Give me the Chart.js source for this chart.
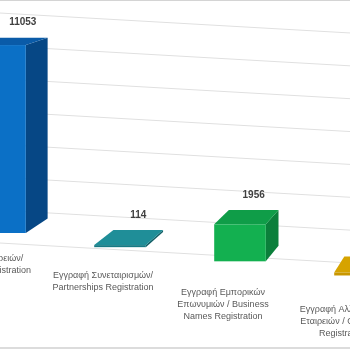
<!DOCTYPE html>
<html>
<head>
<meta charset="utf-8">
<script src="https://cdn.jsdelivr.net/npm/chart.js@4/dist/chart.umd.min.js"></script>
<style>
html, body { margin: 0; padding: 0; background: #fff; }
body { width: 350px; height: 350px; overflow: hidden; position: relative; }
#wrap { position: absolute; left: -60px; top: 0; width: 480px; height: 350px; }
#topLine { position: absolute; left: 0; top: 0; width: 350px; height: 1px; background: #d4d4d4; }
#bottomLine { position: absolute; left: 0; top: 347px; width: 350px; height: 2px; background: #dcdcdc; }
</style>
</head>
<body>
<div id="wrap"><canvas id="chart"></canvas></div>
<div id="topLine"></div>
<div id="bottomLine"></div>
<script>
// data
const categories = [
  ["Εγγραφή Εταιρειών/", "Companies Registration"],
  ["Εγγραφή Συνεταιρισμών/", "Partnerships Registration"],
  ["Εγγραφή Εμπορικών", "Επωνυμιών / Business", "Names Registration"],
  ["Εγγραφή Αλλοδαπών", "Εταιρειών / Overseas", "Registration"]
];
const registrations = [11053, 114, 1956, 150];
const yTicks = [0, 2000, 4000, 6000, 8000, 10000, 12000, 14000];

// colours: front, top, side
const frontColors = ["#0b70c6", "#177a84", "#13b050", "#c99700"];
const topColors   = ["#0a5ba8", "#1f8e98", "#0f9d48", "#d6a300"];
const sideColors  = ["#064785", "#125f66", "#0b7f3b", "#a67d00"];

// perspective settings (canvas coords)
const WALL_SLOPE = 0.057;   // gridlines run down to the right
const WALL_ANCHOR = 235;    // x where the wall matches the y scale
const FRONT_X0 = 60;        // x of first bar centre
const FRONT_SHIFT0 = -20;   // front base offset at FRONT_X0
const FRONT_SLOPE = 0.118;
const VP = [660, -150];     // vanishing point
const DEPTH = 0.038;

function back(p){
  return [p[0] + DEPTH * (VP[0] - p[0]), p[1] + DEPTH * (VP[1] - p[1])];
}

function poly(ctx, pts, color){
  ctx.beginPath();
  ctx.moveTo(pts[0][0], pts[0][1]);
  for (let i = 1; i < pts.length; i++) ctx.lineTo(pts[i][0], pts[i][1]);
  ctx.closePath();
  ctx.fillStyle = color;
  ctx.fill();
}

const box3d = {
  id: "box3d",
  beforeDatasetsDraw(chart){
    const ctx = chart.ctx;
    const y = chart.scales.y;
    ctx.save();
    ctx.strokeStyle = "#e0e0e0";
    ctx.lineWidth = 1;
    yTicks.forEach(v => {
      const py = y.getPixelForValue(v);
      ctx.beginPath();
      ctx.moveTo(0, py + WALL_SLOPE * (0 - WALL_ANCHOR));
      ctx.lineTo(chart.width, py + WALL_SLOPE * (chart.width - WALL_ANCHOR));
      ctx.stroke();
    });
    ctx.restore();
  },
  afterDatasetsDraw(chart){
    const ctx = chart.ctx;
    const meta = chart.getDatasetMeta(0);
    ctx.save();
    meta.data.forEach((el, i) => {
      const p = el.getProps(["x", "y", "base", "width"], true);
      const f = 1.035 + 0.000485 * (p.x - FRONT_X0);
      const baseY = p.base + FRONT_SHIFT0 + FRONT_SLOPE * (p.x - FRONT_X0);
      const h = (p.base - p.y) * f;
      const left = p.x - p.width / 2, right = p.x + p.width / 2, top = baseY - h;

      const ftl = [left, top], ftr = [right, top], fbr = [right, baseY];
      poly(ctx, [ftr, fbr, back(fbr), back(ftr)], sideColors[i]);
      poly(ctx, [ftl, ftr, back(ftr), back(ftl)], topColors[i]);
      ctx.fillStyle = frontColors[i];
      ctx.fillRect(left, top, p.width, Math.max(h, 1));

      // value label
      const bl = back(ftl), br = back(ftr);
      ctx.fillStyle = "#404040";
      ctx.font = "bold 10px 'Liberation Sans', Arial, sans-serif";
      ctx.textAlign = "center";
      ctx.textBaseline = "middle";
      ctx.fillText(String(registrations[i]), (bl[0] + br[0]) / 2, (bl[1] + br[1]) / 2 - 15);

      // category label
      ctx.fillStyle = "#595959";
      ctx.font = "9px 'Liberation Sans', Arial, sans-serif";
      const y0 = 259 + 0.14 * (p.x - FRONT_X0);
      categories[i].forEach((line, j) => {
        ctx.fillText(line, p.x - 17, y0 + j * 12);
      });
    });
    ctx.restore();
  }
};

new Chart(document.getElementById("chart"), {
  type: "bar",
  data: {
    labels: categories,
    datasets: [{
      data: registrations,
      backgroundColor: "rgba(0,0,0,0)",
      barPercentage: 1,
      categoryPercentage: 0.43
    }]
  },
  options: {
    responsive: true,
    maintainAspectRatio: false,
    animation: false,
    layout: { padding: { top: 23, bottom: 97, left: 0, right: 0 } },
    plugins: { legend: { display: false }, tooltip: { enabled: false } },
    scales: {
      x: { display: false },
      y: { display: false, min: 0, max: 14000 }
    }
  },
  plugins: [box3d]
});
</script>
</body>
</html>
